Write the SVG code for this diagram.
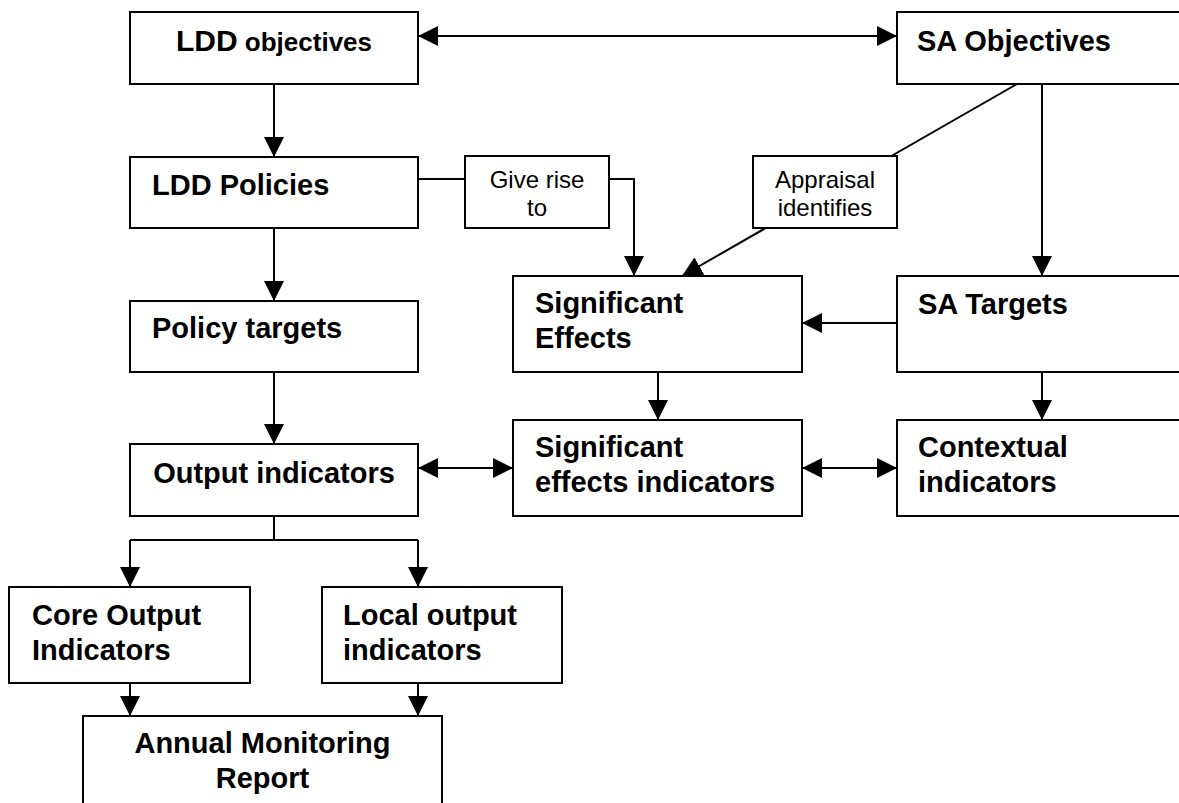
<svg xmlns="http://www.w3.org/2000/svg" width="1179" height="803" viewBox="0 0 1179 803">
<style>
.box{fill:#fff;stroke:#000;stroke-width:2}
.t{font-family:"Liberation Sans",Arial,sans-serif;font-weight:bold;font-size:29px;fill:#000}
.l{font-family:"Liberation Sans",Arial,sans-serif;font-size:24px;fill:#000}
.c{fill:none;stroke:#000;stroke-width:2}
.a{marker-end:url(#ah)}
.d{marker-end:url(#ah);marker-start:url(#ah)}
</style>
<defs>
<marker id="ah" markerUnits="userSpaceOnUse" markerWidth="20" markerHeight="20" refX="20" refY="10" orient="auto-start-reverse" viewBox="0 0 20 20">
<path d="M0,0 L20,10 L0,20 z" fill="#000"/>
</marker>
</defs>
<g id="connectors">
<line class="c d" x1="418" y1="36" x2="897" y2="36"/>
<line class="c a" x1="274" y1="84" x2="274" y2="157"/>
<line class="c a" x1="274" y1="228" x2="274" y2="301"/>
<line class="c a" x1="274" y1="372" x2="274" y2="444"/>
<polyline class="c" points="418,179 465,179"/>
<polyline class="c a" points="609,179 634,179 634,276"/>
<line class="c a" x1="1017" y1="84" x2="682" y2="276"/>
<line class="c a" x1="1042" y1="84" x2="1042" y2="276"/>
<line class="c a" x1="897" y1="323" x2="802" y2="323"/>
<line class="c a" x1="658" y1="372" x2="658" y2="420"/>
<line class="c a" x1="1042" y1="372" x2="1042" y2="420"/>
<line class="c d" x1="418" y1="468" x2="513" y2="468"/>
<line class="c d" x1="802" y1="468" x2="897" y2="468"/>
<polyline class="c" points="274,516 274,540"/>
<polyline class="c" points="130,540 418,540"/>
<line class="c a" x1="130" y1="540" x2="130" y2="587"/>
<line class="c a" x1="418" y1="540" x2="418" y2="587"/>
<line class="c a" x1="130" y1="683" x2="130" y2="716"/>
<line class="c a" x1="418" y1="683" x2="418" y2="716"/>
</g>
<g id="ldd-objectives">
<rect class="box" x="130" y="12" width="288" height="72"/>
<text class="t" x="274" y="51" text-anchor="middle"><tspan font-size="30">LDD</tspan><tspan font-size="26"> objectives</tspan></text>
</g>
<g id="sa-objectives">
<rect class="box" x="897" y="12" width="300" height="72"/>
<text class="t" x="917" y="51">SA Objectives</text>
</g>
<g id="ldd-policies">
<rect class="box" x="130" y="157" width="288" height="71"/>
<text class="t" x="152" y="195">LDD Policies</text>
</g>
<g id="give-rise">
<rect class="box" x="465" y="156" width="144" height="72"/>
<text class="l" text-anchor="middle"><tspan x="537" y="188">Give rise</tspan><tspan x="537" y="216">to</tspan></text>
</g>
<g id="appraisal">
<rect class="box" x="753" y="156" width="144" height="72"/>
<text class="l" text-anchor="middle"><tspan x="825" y="188">Appraisal</tspan><tspan x="825" y="216">identifies</tspan></text>
</g>
<g id="policy-targets">
<rect class="box" x="130" y="301" width="288" height="71"/>
<text class="t" x="152" y="338">Policy targets</text>
</g>
<g id="significant-effects">
<rect class="box" x="513" y="276" width="289" height="96"/>
<text class="t"><tspan x="535" y="313">Significant</tspan><tspan x="535" y="348">Effects</tspan></text>
</g>
<g id="sa-targets">
<rect class="box" x="897" y="276" width="300" height="96"/>
<text class="t" x="918" y="314">SA Targets</text>
</g>
<g id="output-indicators">
<rect class="box" x="130" y="444" width="288" height="72"/>
<text class="t" x="274" y="483" text-anchor="middle">Output indicators</text>
</g>
<g id="significant-effects-indicators">
<rect class="box" x="513" y="420" width="289" height="96"/>
<text class="t"><tspan x="535" y="457">Significant</tspan><tspan x="535" y="492">effects indicators</tspan></text>
</g>
<g id="contextual-indicators">
<rect class="box" x="897" y="420" width="300" height="96"/>
<text class="t"><tspan x="918" y="457">Contextual</tspan><tspan x="918" y="492">indicators</tspan></text>
</g>
<g id="core-output-indicators">
<rect class="box" x="9" y="587" width="241" height="96"/>
<text class="t"><tspan x="32" y="625">Core Output</tspan><tspan x="32" y="660">Indicators</tspan></text>
</g>
<g id="local-output-indicators">
<rect class="box" x="322" y="587" width="240" height="96"/>
<text class="t"><tspan x="343" y="625">Local output</tspan><tspan x="343" y="660">indicators</tspan></text>
</g>
<g id="annual-monitoring-report">
<rect class="box" x="83" y="716" width="359" height="100"/>
<text class="t" text-anchor="middle"><tspan x="262.5" y="753">Annual Monitoring</tspan><tspan x="262.5" y="788">Report</tspan></text>
</g>
</svg>
